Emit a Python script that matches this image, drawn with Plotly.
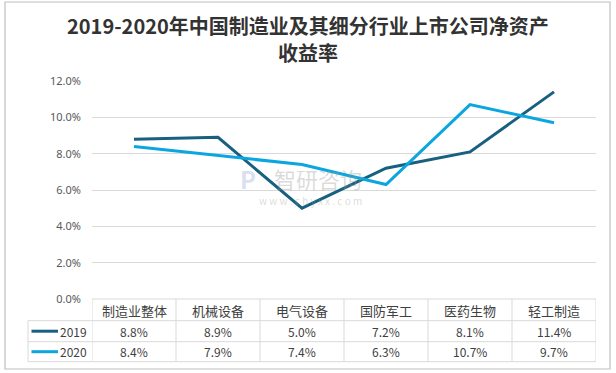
import plotly.graph_objects as go

categories = ["制造业整体", "机械设备", "电气设备", "国防军工", "医药生物", "轻工制造"]
series_names = ["2019", "2020"]
values_2019 = [8.8, 8.9, 5.0, 7.2, 8.1, 11.4]
values_2020 = [8.4, 7.9, 7.4, 6.3, 10.7, 9.7]
y_ticks = [0, 2, 4, 6, 8, 10, 12]
y_tick_labels = ["0.0%", "2.0%", "4.0%", "6.0%", "8.0%", "10.0%", "12.0%"]
title_lines = ["2019-2020年中国制造业及其细分行业上市公司净资产", "收益率"]

colors = ["#17607F", "#0BA6DF"]
series_values = [values_2019, values_2020]

W, H = 616, 373
L, R, T, B = 92, 20, 81, 74
plot_w = W - L - R
plot_h = H - T - B


def px_x(px):
    return (px - L) / plot_w


def px_y(py):
    return (H - B - py) / plot_h


FONT = "Noto Sans CJK SC, Noto Sans, sans-serif"
GRID = "#D9D9D9"
TXT = "#404040"

fig = go.Figure()
xs = list(range(len(categories)))
for name, vals, col in zip(series_names, series_values, colors):
    fig.add_trace(go.Scatter(x=xs, y=vals, mode="lines", name=name,
                             line=dict(color=col, width=3), showlegend=False, hoverinfo="skip"))

shapes = []
annotations = []

row_lines = [299, 320.7, 341.7, 361.7]
legend_left = 28
row_centers = [310, 331.2, 351.7]

shapes.append(dict(type="line", xref="x", yref="paper", x0=-0.5, x1=len(categories) - 0.5,
                   y0=px_y(row_lines[0]), y1=px_y(row_lines[0]), line=dict(color=GRID, width=1)))
for ry in row_lines[1:]:
    shapes.append(dict(type="line", xref="paper", yref="paper", x0=px_x(legend_left), x1=1,
                       y0=px_y(ry), y1=px_y(ry), line=dict(color=GRID, width=1)))
for i in range(len(categories) + 1):
    shapes.append(dict(type="line", xref="x", yref="paper", x0=i - 0.5, x1=i - 0.5,
                       y0=px_y(row_lines[0]), y1=px_y(row_lines[-1]), line=dict(color=GRID, width=1)))
shapes.append(dict(type="line", xref="paper", yref="paper", x0=px_x(legend_left), x1=px_x(legend_left),
                   y0=px_y(row_lines[1]), y1=px_y(row_lines[-1]), line=dict(color=GRID, width=1)))

for i, c in enumerate(categories):
    annotations.append(dict(x=i, y=px_y(row_centers[0]), xref="x", yref="paper", text=c,
                            showarrow=False, xanchor="center", yanchor="middle",
                            font=dict(family=FONT, size=13, color=TXT)))
for r, (name, vals, col) in enumerate(zip(series_names, series_values, colors)):
    yc = px_y(row_centers[r + 1])
    for i, v in enumerate(vals):
        annotations.append(dict(x=i, y=yc, xref="x", yref="paper", text=f"{v:.1f}%",
                                showarrow=False, xanchor="center", yanchor="middle",
                                font=dict(family=FONT, size=12, color=TXT)))
    annotations.append(dict(x=px_x(89), y=yc, xref="paper", yref="paper", text=name, xanchor="right",
                            yanchor="middle", showarrow=False, font=dict(family=FONT, size=12, color=TXT)))
    shapes.append(dict(type="line", xref="paper", yref="paper", x0=px_x(31.5), x1=px_x(58),
                       y0=yc, y1=yc, line=dict(color=col, width=3)))

shapes.append(dict(type="rect", xref="paper", yref="paper", x0=px_x(5), x1=px_x(610),
                   y0=px_y(369), y1=px_y(2), line=dict(color="#BFBFBF", width=1.2),
                   fillcolor="rgba(0,0,0,0)", layer="below"))

for text, cy in zip(title_lines, [25, 52]):
    annotations.append(dict(x=px_x(308), y=px_y(cy), xref="paper", yref="paper", text=f"<b>{text}</b>",
                            showarrow=False, xanchor="center", yanchor="middle",
                            font=dict(family=FONT, size=20, color="#333333")))

annotations.append(dict(x=px_x(318), y=px_y(178), xref="paper", yref="paper", text="智研咨询",
                        showarrow=False, xanchor="center", yanchor="middle",
                        font=dict(family=FONT, size=22, color="rgba(150,150,150,0.35)")))
annotations.append(dict(x=px_x(310), y=px_y(200), xref="paper", yref="paper", text="w w w . c h y x x . c o m",
                        showarrow=False, xanchor="center", yanchor="middle",
                        font=dict(family=FONT, size=10, color="rgba(150,150,150,0.35)")))
annotations.append(dict(x=px_x(248), y=px_y(178), xref="paper", yref="paper", text="<b>P</b>",
                        showarrow=False, xanchor="center", yanchor="middle",
                        font=dict(family=FONT, size=24, color="rgba(120,150,200,0.3)")))

fig.update_layout(
    width=W, height=H,
    margin=dict(l=L, r=R, t=T, b=B),
    paper_bgcolor="white", plot_bgcolor="white",
    hovermode=False,
    xaxis=dict(range=[-0.5, len(categories) - 0.5], showticklabels=False, showgrid=False,
               zeroline=False, showline=False, ticks=""),
    yaxis=dict(range=[0, 12], tickvals=y_ticks, ticktext=y_tick_labels, showgrid=True,
               gridcolor=GRID, gridwidth=1, zeroline=False, showline=False,
               tickfont=dict(family="Noto Sans, sans-serif", size=11, color="#595959"),
               ticklabelstandoff=10),
    shapes=shapes,
    annotations=annotations,
)

fig.write_html("out.html", config={"displayModeBar": False},
               post_script="document.body.style.margin='0';document.body.style.overflow='hidden';")
